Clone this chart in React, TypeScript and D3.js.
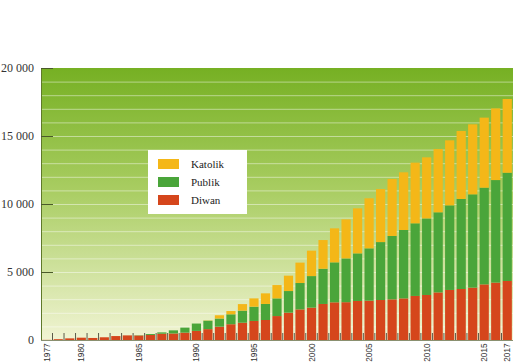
import { useEffect, useRef } from 'react';
import * as d3 from 'd3';

const years = d3.range(1977, 2018).map(String);

const diwan = [
  10, 60, 120, 170, 150, 200, 290, 340, 330, 370,
  460, 480, 540, 670, 800, 980, 1160, 1270, 1400, 1470,
  1760, 2010, 2250, 2380, 2650, 2770, 2780, 2870, 2890, 2940,
  2990, 3060, 3240, 3310, 3500, 3680, 3750, 3850, 4090, 4220,
  4340
];

const publik = [
  0, 0, 0, 0, 0, 0, 0, 0, 20, 70,
  100, 230, 370, 540, 620, 600, 730, 890, 1050, 1180,
  1300, 1590, 1940, 2320, 2590, 2940, 3220, 3500, 3850, 4260,
  4660, 5030, 5340, 5630, 5890, 6220, 6620, 6860, 7110, 7540,
  7960
];

const katolik = [
  0, 0, 0, 0, 0, 0, 0, 0, 0, 0,
  0, 0, 0, 0, 20, 240, 240, 480, 610, 780,
  980, 1130, 1500, 1870, 2110, 2500, 2870, 3310, 3680, 3900,
  4190, 4240, 4460, 4490, 4650, 4780, 5000, 5150, 5150, 5270,
  5420
];

const yTicks = [0, 5000, 10000, 15000, 20000];
const xLabels = ['1977', '1980', '1985', '1990', '1995', '2000', '2005', '2010', '2015', '2017'];

const seriesKeys = ['diwan', 'publik', 'katolik'];
const seriesNames = { katolik: 'Katolik', publik: 'Publik', diwan: 'Diwan' };
const colors = { diwan: '#d5461c', publik: '#4aa53a', katolik: '#f4b718' };

const App = () => {
  const svgRef = useRef<SVGSVGElement>(null);

  useEffect(() => {
    const svg = d3.select(svgRef.current);
    svg.selectAll('*').remove();

    const W = 515, H = 362;
    const left = 41, right = 513, top = 68, bottom = 340;

    svg.attr('width', W).attr('height', H);

    const table = years.map((y, i) => ({
      year: y, diwan: diwan[i], publik: publik[i], katolik: katolik[i]
    }));
    const stacked = d3.stack().keys(seriesKeys)(table as any);

    const x = d3.scaleBand().domain(years).range([left, right]).paddingInner(0.2).paddingOuter(0.1);
    const y = d3.scaleLinear().domain([0, 20000]).range([bottom, top]);

    // background gradient
    const defs = svg.append('defs');
    const grad = defs.append('linearGradient')
      .attr('id', 'bg').attr('x1', 0).attr('y1', 0).attr('x2', 0).attr('y2', 1);
    grad.append('stop').attr('offset', '0%').attr('stop-color', '#76b023');
    grad.append('stop').attr('offset', '45%').attr('stop-color', '#a9cd62');
    grad.append('stop').attr('offset', '100%').attr('stop-color', '#f1f4d3');

    svg.append('rect')
      .attr('x', left).attr('y', top)
      .attr('width', right - left).attr('height', bottom - top)
      .attr('fill', 'url(#bg)');

    // gridlines every 1000
    svg.append('g')
      .selectAll('line')
      .data(d3.range(1000, 20000, 1000))
      .enter()
      .append('line')
      .attr('x1', left).attr('x2', right)
      .attr('y1', d => y(d) + 0.5).attr('y2', d => y(d) + 0.5)
      .attr('stroke', '#ffffff').attr('stroke-opacity', 0.45);

    // bars
    svg.append('g')
      .selectAll('g')
      .data(stacked)
      .enter()
      .append('g')
      .attr('fill', d => colors[d.key])
      .selectAll('rect')
      .data(d => d)
      .enter()
      .append('rect')
      .attr('x', d => x(d.data.year))
      .attr('y', d => y(d[1]))
      .attr('width', x.bandwidth())
      .attr('height', d => Math.max(0, y(d[0]) - y(d[1])));

    // x ticks between bars
    const step = x.step();
    svg.append('g')
      .selectAll('line')
      .data(years.slice(1))
      .enter()
      .append('line')
      .attr('x1', d => x(d) - step * 0.1).attr('x2', d => x(d) - step * 0.1)
      .attr('y1', bottom - 7).attr('y2', bottom)
      .attr('stroke', '#5a5a4a').attr('stroke-width', 1);

    // axes lines
    svg.append('line')
      .attr('x1', left).attr('x2', right).attr('y1', bottom + 0.5).attr('y2', bottom + 0.5)
      .attr('stroke', '#8a9070');
    svg.append('line')
      .attr('x1', left + 0.5).attr('x2', left + 0.5).attr('y1', top).attr('y2', bottom)
      .attr('stroke', '#5f7a2a');

    // y ticks + labels
    const yg = svg.append('g');
    yg.selectAll('line')
      .data(yTicks.filter(d => d > 0))
      .enter()
      .append('line')
      .attr('x1', left).attr('x2', left + 12)
      .attr('y1', d => y(d) + 0.5).attr('y2', d => y(d) + 0.5)
      .attr('stroke', '#4a5a2a');
    yg.selectAll('text')
      .data(yTicks)
      .enter()
      .append('text')
      .attr('x', 34).attr('y', d => y(d) + 4)
      .attr('text-anchor', 'end')
      .attr('font-family', 'Liberation Serif, DejaVu Serif, serif')
      .attr('font-size', 12)
      .attr('fill', '#333')
      .text(d => (d === 0 ? '0' : d3.format(',')(d).replace(',', ' ')));

    // x labels
    svg.append('g')
      .selectAll('text')
      .data(xLabels)
      .enter()
      .append('text')
      .attr('transform', d => `translate(${x(d) + x.bandwidth() / 2 + 3},343.5) rotate(-90)`)
      .attr('text-anchor', 'end')
      .attr('font-family', 'Liberation Sans, Arial, sans-serif')
      .attr('font-size', 8.2)
      .attr('fill', '#333')
      .text(d => d);

    // legend
    const lg = svg.append('g');
    lg.append('rect')
      .attr('x', 148).attr('y', 150).attr('width', 99).attr('height', 64)
      .attr('fill', '#ffffff');
    const order = ['katolik', 'publik', 'diwan'];
    order.forEach((k, i) => {
      lg.append('rect')
        .attr('x', 158).attr('y', 159 + i * 18).attr('width', 21).attr('height', 10)
        .attr('fill', colors[k]);
      lg.append('text')
        .attr('x', 191).attr('y', 168 + i * 18)
        .attr('font-family', 'Liberation Serif, DejaVu Serif, serif')
        .attr('font-size', 11)
        .attr('fill', '#222')
        .text(seriesNames[k]);
    });
  }, []);

  return (
    <div style={{ position: 'absolute', left: 0, top: 0 }}>
      <svg ref={svgRef} style={{ display: 'block' }}></svg>
    </div>
  );
};

export default App;
